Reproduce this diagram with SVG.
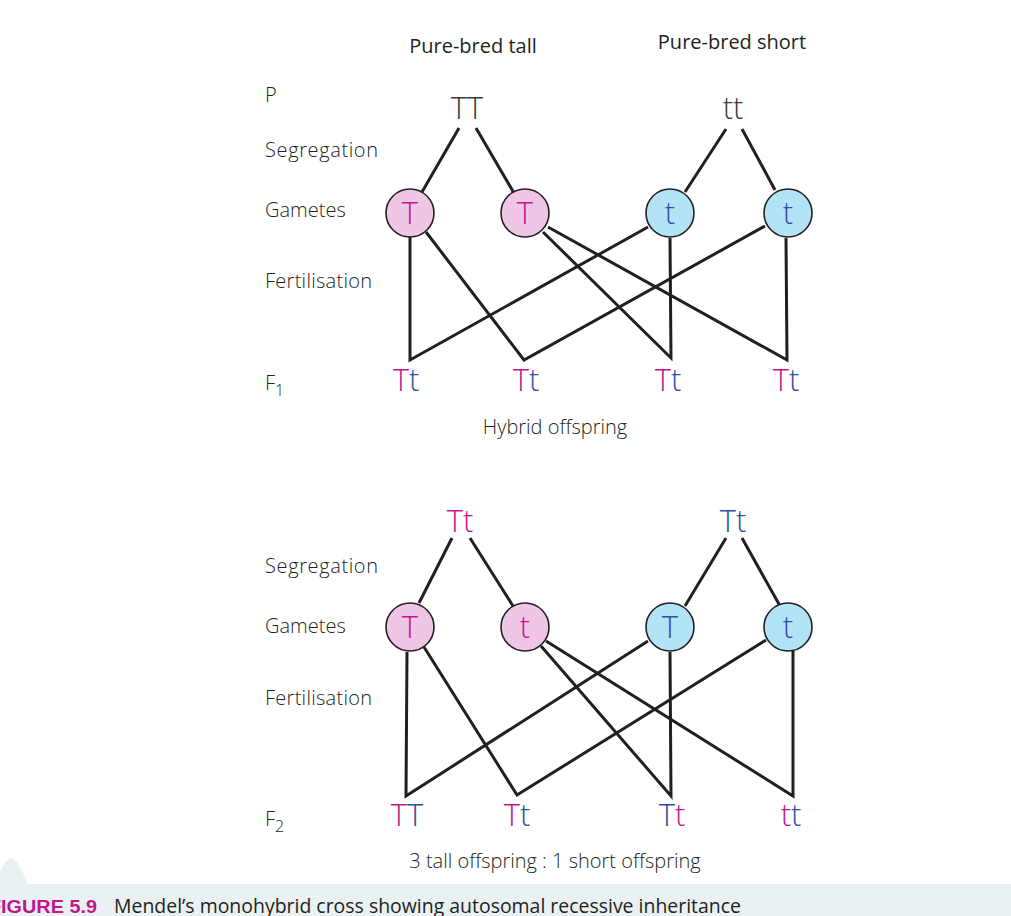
<svg xmlns="http://www.w3.org/2000/svg" width="1011" height="916" viewBox="0 0 1011 916">
<style>
text{font-family:"Open Sans","Liberation Sans",sans-serif;font-weight:300;fill:#231f20}
.lab{font-size:20px}
.hd{font-size:20px;font-weight:400}
.big{font-size:31px;text-anchor:middle}
.m{fill:#c4168c}
.b{fill:#2f4fa8}
.g{fill:#3a3a3a}
.pk{fill:#f0c6e6;stroke:#231f20;stroke-width:1.6}
.bl{fill:#b3e3f6;stroke:#231f20;stroke-width:1.6}
.ln{stroke:#231f20;stroke-width:3;fill:none;stroke-linejoin:miter}
</style>
<rect width="1011" height="916" fill="#fff"/>

<g id="headings">
<text class="hd" x="473" y="53" text-anchor="middle">Pure-bred tall</text>
<text class="hd" x="732" y="49" text-anchor="middle">Pure-bred short</text>
</g>

<g id="row-labels">
<text class="lab" x="265" y="102">P</text>
<text class="lab" x="265" y="157" textLength="113">Segregation</text>
<text class="lab" x="265" y="217">Gametes</text>
<text class="lab" x="265" y="288" textLength="107">Fertilisation</text>
<text class="lab" x="265" y="390">F<tspan font-size="16" dy="6">1</tspan></text>
<text class="lab" x="265" y="573" textLength="113">Segregation</text>
<text class="lab" x="265" y="633">Gametes</text>
<text class="lab" x="265" y="705" textLength="107">Fertilisation</text>
<text class="lab" x="265" y="826">F<tspan font-size="16" dy="6">2</tspan></text>
</g>

<g id="connectors">
<path class="ln" d="M459,128 L422,192 M476,128 L514,193 M726,129 L685,192 M742,129 L775,190"/>
<path class="ln" d="M410,237 L410,360 L648,227 M426,232 L524,360 L765,226 M543,232 L671,358 L670,238 M548,227 L787,360 L786,238"/>
<path class="ln" d="M452,538 L419,603 M470,538 L513,606 M726,538 L685,606 M742,538 L780,606"/>
<path class="ln" d="M407,652 L406,796 L648,641 M424,647 L517,795 L766,640 M541,646 L671,796 L670,652 M546,641 L793,796 L793,651"/>
</g>

<g id="parent-P">
<text class="big g" x="467" y="119">TT</text>
<text class="big g" x="733" y="119">tt</text>
</g>

<g id="gametes-1">
<g id="g1a"><circle class="pk" cx="410" cy="213" r="24"/><text class="big m" x="410" y="224">T</text></g>
<g id="g1b"><circle class="pk" cx="525" cy="213" r="24"/><text class="big m" x="525" y="224">T</text></g>
<g id="g1c"><circle class="bl" cx="670" cy="213" r="24"/><text class="big b" x="670" y="224">t</text></g>
<g id="g1d"><circle class="bl" cx="788" cy="213" r="24"/><text class="big b" x="788" y="224">t</text></g>
</g>

<g id="F1">
<text class="big" x="406" y="391"><tspan class="m">T</tspan><tspan class="b">t</tspan></text>
<text class="big" x="526" y="391"><tspan class="m">T</tspan><tspan class="b">t</tspan></text>
<text class="big" x="668" y="391"><tspan class="m">T</tspan><tspan class="b">t</tspan></text>
<text class="big" x="786" y="391"><tspan class="m">T</tspan><tspan class="b">t</tspan></text>
<text class="lab" x="555" y="434" text-anchor="middle">Hybrid offspring</text>
</g>

<g id="parent-F1">
<text class="big m" x="460" y="532">Tt</text>
<text class="big b" x="733" y="532">Tt</text>
</g>

<g id="gametes-2">
<g id="g2a"><circle class="pk" cx="410" cy="627" r="24"/><text class="big m" x="410" y="638">T</text></g>
<g id="g2b"><circle class="pk" cx="525" cy="627" r="24"/><text class="big m" x="525" y="638">t</text></g>
<g id="g2c"><circle class="bl" cx="670" cy="627" r="24"/><text class="big b" x="670" y="638">T</text></g>
<g id="g2d"><circle class="bl" cx="788" cy="627" r="24"/><text class="big b" x="788" y="638">t</text></g>
</g>

<g id="F2">
<text class="big" x="407" y="826"><tspan class="m">T</tspan><tspan class="b">T</tspan></text>
<text class="big" x="517" y="826"><tspan class="m">T</tspan><tspan class="b">t</tspan></text>
<text class="big" x="672" y="826"><tspan class="b">T</tspan><tspan class="m">t</tspan></text>
<text class="big" x="791" y="826"><tspan class="m">t</tspan><tspan class="b">t</tspan></text>
<text class="lab" x="555" y="868" text-anchor="middle">3 tall offspring : 1 short offspring</text>
</g>

<g id="caption">
<path d="M0,884 L0,872 Q6,858 12,858 Q18,860 28,884 Z" fill="#e9f1f3"/>
<rect x="0" y="884" width="1011" height="32" fill="#e9f1f3"/>
<text x="-11" y="913" style="font-family:'Liberation Sans',sans-serif;font-weight:700;font-size:19px;fill:#c4168c" textLength="108" lengthAdjust="spacingAndGlyphs">FIGURE 5.9</text>
<text x="114" y="913" style="font-size:20px;fill:#231f20;font-weight:400" textLength="627" lengthAdjust="spacingAndGlyphs">Mendel’s monohybrid cross showing autosomal recessive inheritance</text>
</g>
</svg>
